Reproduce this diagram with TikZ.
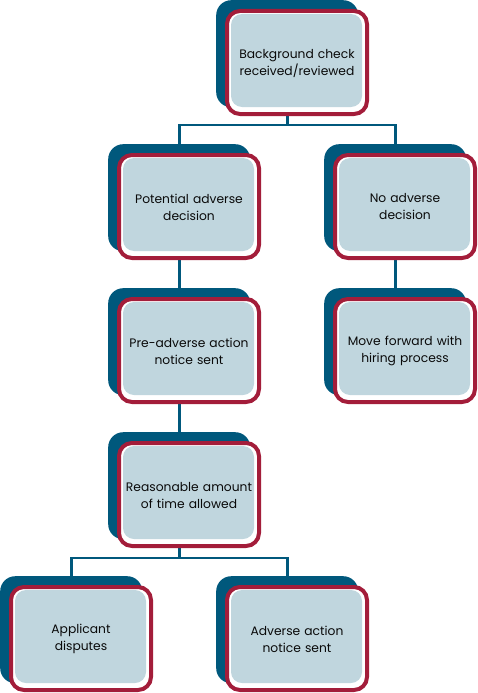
\documentclass[tikz,border=0pt]{standalone}
\usepackage{fontspec}
\setmainfont{Poppins}
\pgfdeclarelayer{bg}
\pgfsetlayers{bg,main}
\definecolor{cteal}{RGB}{0,88,124}
\definecolor{cred}{RGB}{163,29,58}
\definecolor{clight}{RGB}{192,214,222}
\definecolor{ctext}{RGB}{10,10,10}
\tikzset{
 tealbox/.style={fill=cteal, rounded corners=15pt, minimum width=142pt, minimum height=107pt, inner sep=0pt, draw=none, anchor=north west},
 redbox/.style={draw=cred, fill=white, line width=4pt, rounded corners=13pt},
 fillbox/.style={fill=clight, rounded corners=11pt},
 txt/.style={inner sep=0pt, align=center, font=\fontsize{12.3}{17}\selectfont, text=ctext, text width=131pt},
 conn/.style={draw=cteal, line width=2.6pt}
}
\newcommand{\card}[4]{%
 \node[tealbox] (#1-t) at ({#2-9},{#3-9}) {};
 \draw[redbox] ({#2+2},{#3+2}) rectangle ({#2+142},{#3+105});
 \path[fillbox] ({#2+6},{#3+5}) rectangle ({#2+137},{#3+98});
 \node[txt] (#1) at ({#2+72},{#3+54}) {#4};
}
\begin{document}
\begin{tikzpicture}[x=1pt,y=-1pt]
\useasboundingbox (0,0) rectangle (477,693);
\card{top}{225}{9}{Background check\\received/reviewed}
\card{pot}{117}{153}{Potential adverse\\decision}
\card{noad}{333}{153}{No adverse\\decision}
\card{pre}{117}{297}{Pre-adverse action\\notice sent}
\card{move}{333}{297}{Move forward with\\hiring process}
\card{rea}{117}{441}{Reasonable amount\\of time allowed}
\card{app}{9}{585}{Applicant\\disputes}
\card{adv}{225}{585}{Adverse action\\notice sent}
\begin{pgfonlayer}{bg}
 \coordinate (s1) at (top-t.center |- 0,125);
 \coordinate (s2) at (rea-t.center |- 0,558);
 \draw[conn] (top-t.center) -- (s1);
 \draw[conn] (pot-t.center) |- (s1) -| (noad-t.center);
 \draw[conn] (pot-t.center) -- (pre-t.center);
 \draw[conn] (pre-t.center) -- (rea-t.center);
 \draw[conn] (noad-t.center) -- (move-t.center);
 \draw[conn] (rea-t.center) -- (s2);
 \draw[conn] (app-t.center) |- (s2) -| (adv-t.center);
\end{pgfonlayer}
\end{tikzpicture}
\end{document}
